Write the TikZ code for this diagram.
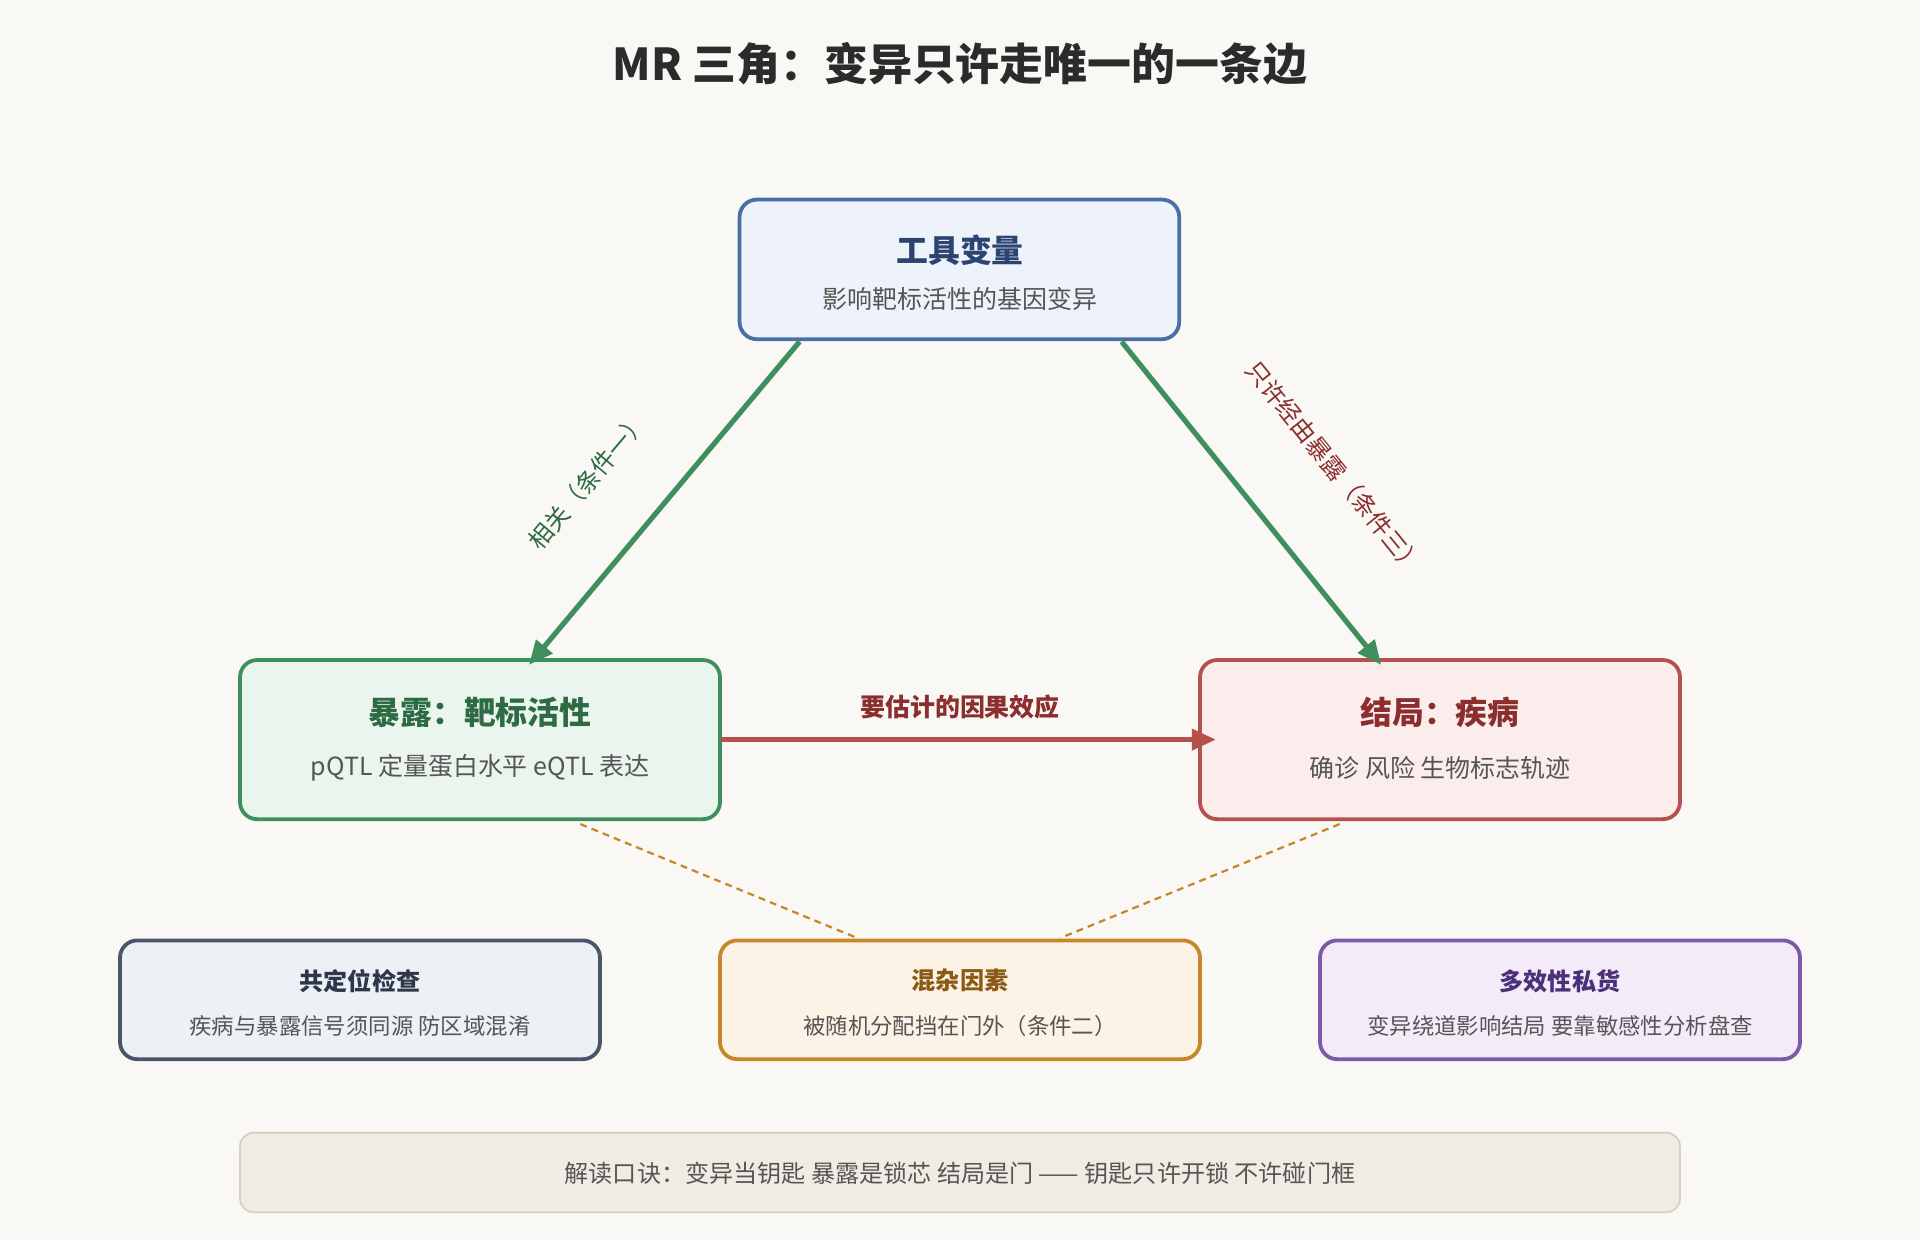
\documentclass[tikz,border=0pt]{standalone}
\usepackage{fontspec}
\setmainfont{Noto Sans CJK SC}
\usetikzlibrary{arrows.meta}
\definecolor{bgColor}{HTML}{FAF8F4}
\definecolor{titleText}{HTML}{2B2B2B}
\definecolor{blueLine}{HTML}{4A6FA5}\definecolor{blueFill}{HTML}{EEF2FA}\definecolor{blueText}{HTML}{2C4470}
\definecolor{greenLine}{HTML}{3E8E5E}\definecolor{greenFill}{HTML}{EAF5EE}\definecolor{greenText}{HTML}{2E6B45}
\definecolor{redLine}{HTML}{B5504F}\definecolor{redFill}{HTML}{FCEDED}\definecolor{redText}{HTML}{8B2E2E}
\definecolor{grayLine}{HTML}{4A5568}\definecolor{grayFill}{HTML}{EDF0F4}\definecolor{grayText}{HTML}{2D3748}
\definecolor{orangeLine}{HTML}{C8862A}\definecolor{orangeFill}{HTML}{FDF2E6}\definecolor{orangeText}{HTML}{8A5A14}
\definecolor{purpleLine}{HTML}{7B5BA8}\definecolor{purpleFill}{HTML}{F3ECF8}\definecolor{purpleText}{HTML}{4B2F7A}
\definecolor{footLine}{HTML}{D6CFC0}\definecolor{footFill}{HTML}{F1ECE3}
\definecolor{subText}{HTML}{555555}
\begin{document}
\begin{tikzpicture}[%
  x=0.025cm,y=-0.025cm,
  boxStyle/.style={draw,line width=2.2pt,rounded corners=10pt},
  bigTitle/.style={font=\bfseries\fontsize{18.5}{22}\selectfont},
  bigSub/.style={font=\fontsize{14.5}{17}\selectfont,text=subText},
  smallTitle/.style={font=\bfseries\fontsize{14}{17}\selectfont},
  smallSub/.style={font=\fontsize{13}{15}\selectfont,text=subText},
  edgeStyle/.style={line width=3pt,-{Triangle[length=14pt,width=12pt]}},
  dashStyle/.style={orangeLine,line width=1.3pt,dash pattern=on 4pt off 3pt}
]
\fill[bgColor] (0,0) rectangle (1568,1013);
\useasboundingbox (0,0) rectangle (1568,1013);
% title
\node[text=titleText] (title) at (784,52) {\bfseries\fontsize{25.5}{30}\selectfont MR 三角：变异只许走唯一的一条边};
% main boxes
\draw[boxStyle,blueLine,fill=blueFill] (604,163) rectangle (963,277);
\coordinate (toolBL) at (653,279);
\coordinate (toolBR) at (916,279);
\node[bigTitle,text=blueText] (toolTitle) at (784,204) {工具变量};
\node[bigSub] (toolSub) at (784,244) {影响靶标活性的基因变异};
\draw[boxStyle,greenLine,fill=greenFill] (196,539) rectangle (588,669);
\node[bigTitle,text=greenText] (expTitle) at (392,582) {暴露：靶标活性};
\node[bigSub] (expSub) at (392,627) {pQTL 定量蛋白水平 eQTL 表达};
\draw[boxStyle,redLine,fill=redFill] (980,539) rectangle (1372,669);
\node[bigTitle,text=redText] (outTitle) at (1176,582) {结局：疾病};
\node[bigSub] (outSub) at (1176,627) {确诊 风险 生物标志轨迹};
% edges
\coordinate (expTop) at (432,543);
\coordinate (outTop) at (1128,543);
\draw[edgeStyle,greenLine] (toolBL) -- (expTop);
\draw[edgeStyle,greenLine] (toolBR) -- (outTop);
\node[rotate=50,text=greenText,font=\fontsize{14}{16}\selectfont] (condOne) at (480,393) {相关（条件一）};
\node[rotate=-51,text=redText,font=\fontsize{14}{16}\selectfont] (condThree) at (1090,382) {只许经由暴露（条件三）};
\coordinate (expRight) at (589,604);
\coordinate (outLeft) at (993,604);
\draw[edgeStyle,redLine] (expRight) -- (outLeft);
\node[font=\bfseries\fontsize{14.5}{17}\selectfont,text=redText] (effect) at (784,577) {要估计的因果效应};
% confounder links
\coordinate (expLow) at (474,673);
\coordinate (outLow) at (1094,673);
\coordinate (confL) at (700,766);
\coordinate (confR) at (866,766);
\draw[dashStyle] (expLow) -- (confL);
\draw[dashStyle] (outLow) -- (confR);
% bottom boxes
\draw[boxStyle,grayLine,fill=grayFill] (98,768) rectangle (490,865);
\node[smallTitle,text=grayText] (colocTitle) at (294,801) {共定位检查};
\node[smallSub] (colocSub) at (294,838) {疾病与暴露信号须同源 防区域混淆};
\draw[boxStyle,orangeLine,fill=orangeFill] (588,768) rectangle (980,865);
\node[smallTitle,text=orangeText] (confTitle) at (784,801) {混杂因素};
\node[smallSub] (confSub) at (784,838) {被随机分配挡在门外（条件二）};
\draw[boxStyle,purpleLine,fill=purpleFill] (1078,768) rectangle (1470,865);
\node[smallTitle,text=purpleText] (pleioTitle) at (1274,801) {多效性私货};
\node[smallSub] (pleioSub) at (1274,838) {变异绕道影响结局 要靠敏感性分析盘查};
% footer
\draw[footLine,fill=footFill,line width=1pt,rounded corners=8pt] (196,925) rectangle (1372,990);
\node[smallSub,font=\fontsize{14}{16}\selectfont] (footer) at (784,958) {解读口诀：变异当钥匙 暴露是锁芯 结局是门 —— 钥匙只许开锁 不许碰门框};
\end{tikzpicture}
\end{document}
